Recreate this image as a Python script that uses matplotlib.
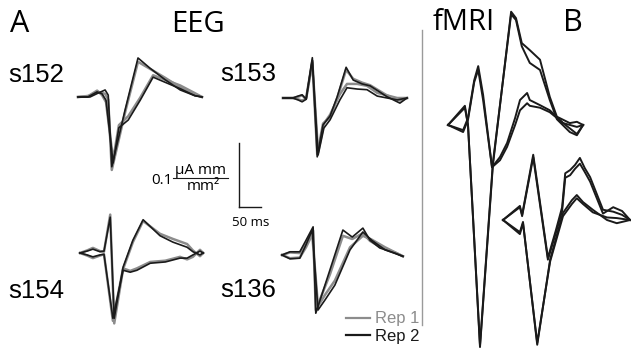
import matplotlib.pyplot as plt
from matplotlib.lines import Line2D

W, H = 631, 352
MS_PX = 2.25          # ms per pixel
AMP_PX = 0.1 / 64     # uA mm/mm^2 per pixel

GRAY = '#8c8c8c'
BLACK = '#1a1a1a'

# ---- EEG source waveforms (time in ms, amplitude in uA mm/mm^2) ----
# s152
s152_ta = [-50, -23, -5, 11, 18, 26, 56, 85, 112, 146, 180, 213, 229]
s152_rep2_a = [0, 0, 0.006, 0.011, 0.003, -0.109, -0.020, 0.061, 0.045, 0.027, 0.011, 0.002, 0]
s152_rep1_a = [0, 0.002, 0.008, 0.005, -0.004, -0.114, -0.024, 0.055, 0.044, 0.030, 0.015, 0.004, 0]
s152_tb = [-50, -28, -7, 4, 13, 29, 42, 63, 90, 119, 146, 180, 213, 229]
s152_rep2_b = [0, 0, 0.008, 0.005, -0.005, -0.103, -0.048, -0.036, -0.005, 0.031, 0.023, 0.013, 0.002, 0]
s152_rep1_b = [0, 0.001, 0.010, 0.003, -0.008, -0.098, -0.044, -0.030, -0.001, 0.034, 0.027, 0.018, 0.006, 0]

# s153
s153_ta = [-50, -28, -16, -7, 2, 16, 27, 40, 56, 72, 92, 108, 128, 146, 184, 213, 229]
s153_rep2_a = [0, 0, 0.003, 0.005, -0.002, 0.063, -0.092, -0.042, -0.028, 0.002, 0.048, 0.028, 0.022, 0.019, 0.002, -0.008, 0]
s153_rep1_a = [0, 0, 0.002, 0.004, -0.001, 0.058, -0.088, -0.040, -0.030, 0.000, 0.044, 0.030, 0.024, 0.020, 0.004, -0.004, 0]
s153_tb = [-50, -28, -16, -7, 2, 16, 29, 42, 56, 78, 94, 117, 139, 162, 207, 229]
s153_rep2_b = [0, 0, -0.003, -0.006, -0.002, 0.059, -0.089, -0.047, -0.034, -0.003, 0.016, 0.014, 0.013, 0.003, -0.003, 0]
s153_rep1_b = [0, 0, -0.002, -0.004, -0.001, 0.055, -0.085, -0.040, -0.026, 0.006, 0.022, 0.022, 0.019, 0.008, 0.000, 0]

# s154
s154_ta = [-50, -34, -21, -5, 4, 18, 27, 47, 69, 92, 130, 159, 191, 204, 220, 227]
s154_rep2_a = [0, 0.003, 0.006, 0.002, 0.003, 0.056, -0.102, -0.022, 0.020, 0.052, 0.027, 0.017, 0.009, 0.002, -0.003, 0]
s154_rep1_a = [0, 0.004, 0.008, 0.003, 0.002, 0.060, -0.110, -0.025, 0.017, 0.050, 0.030, 0.022, 0.014, 0.004, -0.005, 0]
s154_tb = [-50, -34, -21, -5, 4, 24, 47, 63, 78, 108, 142, 175, 191, 204, 220, 227]
s154_rep2_b = [0, -0.003, -0.006, -0.003, -0.002, -0.102, -0.027, -0.030, -0.027, -0.016, -0.014, -0.008, -0.008, -0.003, 0.003, 0]
s154_rep1_b = [0, -0.004, -0.008, -0.004, -0.002, -0.106, -0.024, -0.028, -0.024, -0.014, -0.012, -0.006, -0.010, -0.006, 0.005, 0]

# s136
s136_ta = [-50, -32, -10, 4, 20, 26, 58, 87, 108, 132, 148, 170, 204, 222]
s136_rep2_a = [0, 0.005, 0.005, 0.023, 0.044, -0.091, -0.023, 0.039, 0.028, 0.042, 0.023, 0.011, 0.003, -0.002]
s136_rep1_a = [0, 0.004, 0.003, 0.019, 0.038, -0.086, -0.030, 0.030, 0.025, 0.034, 0.022, 0.013, 0.004, -0.002]
s136_tb = [-50, -32, -10, 4, 18, 31, 47, 69, 103, 132, 152, 182, 222]
s136_rep2_b = [0, -0.006, -0.005, 0.016, 0.039, -0.086, -0.070, -0.047, 0.008, 0.036, 0.023, 0.008, -0.002]
s136_rep1_b = [0, -0.005, -0.004, 0.012, 0.032, -0.080, -0.062, -0.040, 0.012, 0.030, 0.024, 0.012, -0.002]

# ---- fMRI-constrained waveforms ----
f1_ta = [-50, -12, -5, 22, 51, 92, 103, 116, 134, 157, 179, 195, 224, 240, 254]
f1_a1 = [0, 0.027, 0, -0.347, -0.063, 0.177, 0.167, 0.128, 0.117, 0.102, 0.044, 0.013, 0.003, 0.005, 0]
f1_a2 = [0, 0.030, 0, -0.344, -0.059, 0.173, 0.164, 0.123, 0.097, 0.086, 0.039, 0.009, -0.011, -0.016, 0]
f1_tb = [-50, -16, -5, 9, 18, 29, 49, 67, 83, 101, 112, 128, 134, 157, 179, 209, 240, 254]
f1_b1 = [0, -0.008, 0.011, 0.070, 0.092, 0.047, -0.066, -0.050, -0.028, 0.011, 0.039, 0.050, 0.039, 0.031, 0.023, 0.003, -0.003, 0]
f1_b2 = [0, -0.011, 0.008, 0.067, 0.086, 0.039, -0.066, -0.055, -0.034, 0, 0.023, 0.034, 0.030, 0.027, 0.020, 0.003, -0.014, 0]

f2_ta = [-50, -12, -7, 18, 51, 69, 83, 90, 101, 112, 123, 134, 146, 175, 198, 218, 236]
f2_a1 = [0, 0.020, 0.008, 0.102, -0.059, -0.016, 0.020, 0.073, 0.078, 0.086, 0.097, 0.081, 0.067, 0.016, 0.013, 0.008, 0]
f2_a2 = [0, 0.022, 0.006, 0.098, -0.062, -0.020, 0.014, 0.066, 0.070, 0.080, 0.088, 0.075, 0.060, 0.010, 0.020, 0.014, 0]
f2_tb = [-50, -12, -5, 27, 56, 85, 105, 116, 130, 152, 184, 206, 236]
f2_b1 = [0, -0.019, -0.003, -0.195, -0.062, 0.011, 0.031, 0.039, 0.028, 0.016, 0, -0.005, 0]
f2_b2 = [0, -0.022, -0.005, -0.192, -0.065, 0.006, 0.025, 0.034, 0.025, 0.012, 0.004, 0.003, 0]

scale_ms = 50
scale_amp = 0.1

fig = plt.figure(figsize=(W / 100, H / 100), dpi=100)


def overlay(x0, base):
    # transparent full-figure axes whose (t=-50 ms, 0) sits at pixel (x0, base)
    ax = fig.add_axes([0, 0, 1, 1])
    ax.set_xlim(-50 - x0 * MS_PX, -50 + (W - x0) * MS_PX)
    ax.set_ylim(-(H - base) * AMP_PX, base * AMP_PX)
    ax.axis('off')
    return ax


eeg = [
    (78, 97, s152_ta, s152_rep1_a, s152_rep2_a, s152_tb, s152_rep1_b, s152_rep2_b),
    (283, 98, s153_ta, s153_rep1_a, s153_rep2_a, s153_tb, s153_rep1_b, s153_rep2_b),
    (80, 253, s154_ta, s154_rep1_a, s154_rep2_a, s154_tb, s154_rep1_b, s154_rep2_b),
    (282, 255, s136_ta, s136_rep1_a, s136_rep2_a, s136_tb, s136_rep1_b, s136_rep2_b),
]
for x0, base, ta, r1a, r2a, tb, r1b, r2b in eeg:
    ax = overlay(x0, base)
    ax.plot(ta, r1a, color=GRAY, lw=1.8, solid_joinstyle='round')
    ax.plot(tb, r1b, color=GRAY, lw=1.8, solid_joinstyle='round')
    ax.plot(ta, r2a, color=BLACK, lw=1.2, solid_joinstyle='round')
    ax.plot(tb, r2b, color=BLACK, lw=1.2, solid_joinstyle='round')

for x0, base, ta, a1, a2, tb, b1, b2 in [
    (448, 125, f1_ta, f1_a1, f1_a2, f1_tb, f1_b1, f1_b2),
    (503, 220, f2_ta, f2_a1, f2_a2, f2_tb, f2_b1, f2_b2),
]:
    ax = overlay(x0, base)
    for t, a in [(ta, a1), (ta, a2), (tb, b1), (tb, b2)]:
        ax.plot(t, a, color=BLACK, lw=1.4, solid_joinstyle='round')

# scale bar
ax = overlay(239, 207)
ax.plot([-50, -50], [0, scale_amp], color=BLACK, lw=1.0)
ax.plot([-50, -50 + scale_ms], [0, 0], color=BLACK, lw=1.0)

# separator line between EEG and fMRI
fig.add_artist(Line2D([421.5 / W, 421.5 / W], [1 - 30 / H, 1 - 325 / H], color='#9a9a9a', lw=1.0))
# fraction bar of the unit
fig.add_artist(Line2D([173 / W, 228 / W], [1 - 178 / H, 1 - 178 / H], color=BLACK, lw=0.8))


def txt(x, y, s, size, family='Open Sans', **kw):
    fig.text(x / W, 1 - y / H, s, fontsize=size, family=family, va='center', **kw)


txt(10, 24, 'A', 22)
txt(171, 24, 'EEG', 21)
txt(433, 23, 'fMRI', 21)
txt(563, 23, 'B', 22)
for x, y, s in [(8, 75, 's152'), (220, 74, 's153'), (8, 291, 's154'), (220, 290, 's136')]:
    txt(x, y, s, 18.5, family='Liberation Sans')
txt(151, 180, '0.1', 11)
txt(200.5, 171, 'μA mm', 11, ha='center')
txt(203.5, 186, 'mm²', 11, ha='center')
txt(232, 222, '50 ms', 9.5)

handles = [Line2D([], [], color=GRAY, lw=1.6), Line2D([], [], color=BLACK, lw=1.6)]
leg = fig.legend(handles, ['Rep 1', 'Rep 2'], loc='upper left',
                 bbox_to_anchor=(338 / W, 1 - 303 / H), frameon=False,
                 prop={'family': 'Liberation Sans', 'size': 12},
                 handlelength=1.4, handletextpad=0.3, labelspacing=0.15, borderpad=0)
leg.get_texts()[0].set_color(GRAY)
leg.get_texts()[1].set_color(BLACK)

fig.savefig('out.png', dpi=100)
